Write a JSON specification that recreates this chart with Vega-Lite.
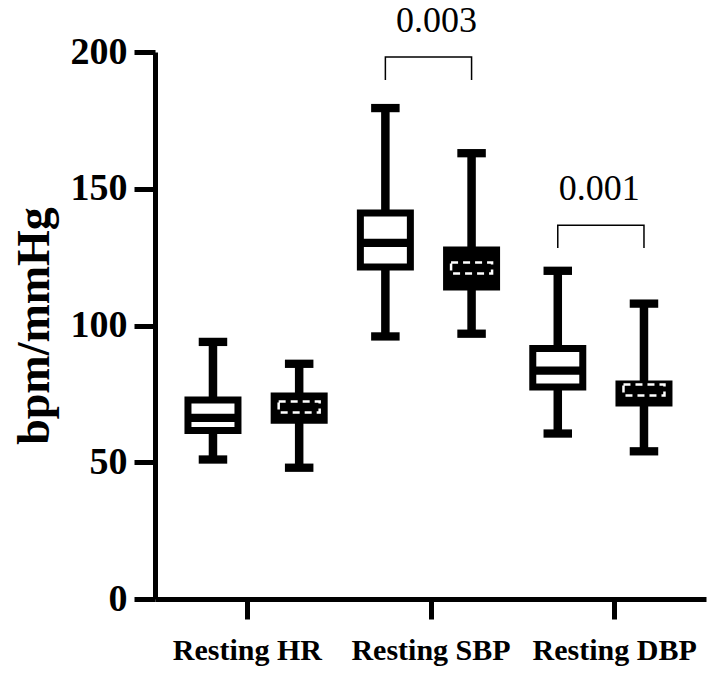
{
  "$schema": "https://vega.github.io/schema/vega-lite/v6.json",
  "autosize": {"type": "none"},
  "padding": {"left": 155, "top": 52, "right": 3, "bottom": 74},
  "width": 551,
  "height": 547,
  "background": "white",
  "config": {
    "view": {"stroke": null},
    "font": "Liberation Serif",
    "axis": {"grid": false, "domainColor": "black", "tickColor": "black", "labelColor": "black", "titleColor": "black"}
  },
  "datasets": {
    "boxes": [
      {"cat": "Resting HR", "box": "HR-A", "grp": "A", "min": 51, "q1": 61.6, "median": 66.2, "q3": 72.8, "max": 94},
      {"cat": "Resting HR", "box": "HR-B", "grp": "B", "min": 48, "q1": 65.4, "median": 70.2, "q3": 74.2, "max": 86},
      {"cat": "Resting SBP", "box": "SBP-A", "grp": "A", "min": 96, "q1": 121.4, "median": 130.2, "q3": 141.1, "max": 179.5},
      {"cat": "Resting SBP", "box": "SBP-B", "grp": "B", "min": 97, "q1": 114.1, "median": 121, "q3": 127.6, "max": 163},
      {"cat": "Resting DBP", "box": "DBP-A", "grp": "A", "min": 60.5, "q1": 77.5, "median": 83.5, "q3": 91.6, "max": 120},
      {"cat": "Resting DBP", "box": "DBP-B", "grp": "B", "min": 54, "q1": 71.7, "median": 76.4, "q3": 78.6, "max": 108}
    ],
    "brackets": [
      {"cat": "Resting SBP", "box": "SBP-A", "y": 189.8, "ord": 1},
      {"cat": "Resting SBP", "box": "SBP-A", "y": 198.2, "ord": 2},
      {"cat": "Resting SBP", "box": "SBP-B", "y": 198.2, "ord": 3},
      {"cat": "Resting SBP", "box": "SBP-B", "y": 189.8, "ord": 4},
      {"cat": "Resting DBP", "box": "DBP-A", "y": 128.3, "ord": 1},
      {"cat": "Resting DBP", "box": "DBP-A", "y": 136.7, "ord": 2},
      {"cat": "Resting DBP", "box": "DBP-B", "y": 136.7, "ord": 3},
      {"cat": "Resting DBP", "box": "DBP-B", "y": 128.3, "ord": 4}
    ],
    "pvals": [
      {"cat": "Resting SBP", "y": 207.3, "label": "0.003"},
      {"cat": "Resting DBP", "y": 145.8, "label": "0.001"}
    ]
  },
  "resolve": {"scale": {"x": "independent"}, "axis": {"x": "independent"}},
  "layer": [
    {
      "data": {"name": "pvals"},
      "encoding": {
        "x": {
          "field": "cat", "type": "nominal",
          "sort": ["Resting HR", "Resting SBP", "Resting DBP"],
          "scale": {"domain": ["Resting HR", "Resting SBP", "Resting DBP"], "paddingInner": 0, "paddingOuter": 0},
          "axis": {
            "title": null, "labelAngle": 0, "labelFont": "Liberation Serif", "labelFontWeight": "bold",
            "labelFontSize": 30, "labelPadding": 16, "tickSize": 20, "tickWidth": 5, "domainWidth": 5
          }
        },
        "y": {"field": "y", "type": "quantitative"},
        "text": {"field": "label"}
      },
      "layer": [
        {
          "transform": [{"filter": "datum.cat === 'Resting SBP'"}],
          "mark": {"type": "text", "font": "Liberation Serif", "fontSize": 36, "baseline": "alphabetic", "align": "center", "color": "black", "dx": 6}
        },
        {
          "transform": [{"filter": "datum.cat === 'Resting DBP'"}],
          "mark": {"type": "text", "font": "Liberation Serif", "fontSize": 36, "baseline": "alphabetic", "align": "center", "color": "black", "dx": -15}
        }
      ]
    },
    {
      "encoding": {
        "x": {
          "field": "box", "type": "nominal",
          "scale": {"domain": ["HR-A", "HR-B", "SBP-A", "SBP-B", "DBP-A", "DBP-B"], "paddingInner": 0, "paddingOuter": 0.196, "align": 0.44},
          "axis": null
        }
      },
      "layer": [
        {
          "data": {"name": "boxes"},
          "mark": {"type": "rule", "strokeWidth": 8.5, "color": "black"},
          "encoding": {
            "y": {
              "field": "min", "type": "quantitative",
              "scale": {"domain": [0, 200], "nice": false, "zero": true},
              "axis": {
                "values": [0, 50, 100, 150, 200], "title": "bpm/mmHg",
                "titleFont": "Liberation Serif", "titleFontWeight": "bold", "titleFontSize": 46, "titlePadding": 12,
                "labelFont": "Liberation Serif", "labelFontWeight": "bold", "labelFontSize": 38, "labelPadding": 7,
                "tickSize": 21, "tickWidth": 5, "domainWidth": 5
              }
            },
            "y2": {"field": "max"}
          }
        },
        {
          "data": {"name": "boxes"},
          "mark": {"type": "bar", "width": 50, "stroke": "black", "strokeWidth": 7},
          "encoding": {
            "y": {"field": "q1", "type": "quantitative"},
            "y2": {"field": "q3"},
            "fill": {"field": "grp", "type": "nominal", "scale": {"domain": ["A", "B"], "range": ["white", "black"]}, "legend": null}
          }
        },
        {
          "data": {"name": "boxes"},
          "mark": {"type": "tick", "size": 28.5, "thickness": 8.3, "color": "black", "opacity": 1},
          "encoding": {"y": {"field": "max", "type": "quantitative"}}
        },
        {
          "data": {"name": "boxes"},
          "mark": {"type": "tick", "size": 28.5, "thickness": 8.3, "color": "black", "opacity": 1},
          "encoding": {"y": {"field": "min", "type": "quantitative"}}
        },
        {
          "data": {"name": "boxes"},
          "transform": [{"filter": "datum.grp === 'A'"}],
          "mark": {"type": "tick", "size": 50, "thickness": 8.3, "color": "black", "opacity": 1},
          "encoding": {"y": {"field": "median", "type": "quantitative"}}
        },
        {
          "data": {"name": "boxes"},
          "transform": [{"filter": "datum.grp === 'B'"}],
          "mark": {"type": "tick", "size": 41, "thickness": 11, "fill": "black", "stroke": "white", "strokeWidth": 2.5, "strokeDash": [7, 5], "opacity": 1},
          "encoding": {"y": {"field": "median", "type": "quantitative"}}
        },
        {
          "data": {"name": "brackets"},
          "mark": {"type": "line", "color": "black", "strokeWidth": 1.5},
          "encoding": {
            "y": {"field": "y", "type": "quantitative"},
            "detail": {"field": "cat"},
            "order": {"field": "ord"}
          }
        }
      ]
    }
  ]
}
